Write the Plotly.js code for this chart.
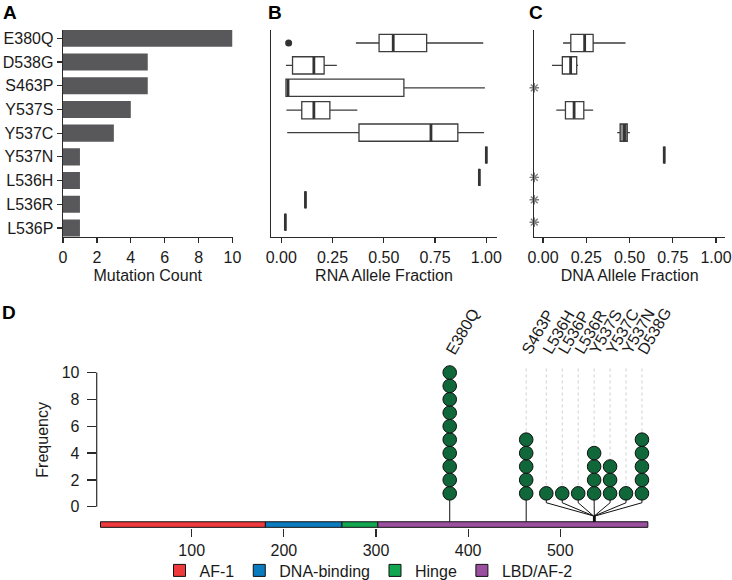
<!DOCTYPE html>
<html><head><meta charset="utf-8">
<script src="https://cdn.plot.ly/plotly-3.0.1.min.js"></script>
<style>html,body{margin:0;padding:0;background:#fff}#chart{width:732px;height:580px}</style>
</head><body><div id="chart"></div>
<script>
// ---------- data ----------
const mutations = ['E380Q','D538G','S463P','Y537S','Y537C','Y537N','L536H','L536R','L536P'];
const mutationCount = [10,5,5,4,3,1,1,1,1];

// RNA allele fraction box statistics (panel B)
const rnaLower  = [0.364,0.023,0.023,0.025,0.029,1.000,0.966,0.118,0.020];
const rnaQ1     = [0.477,0.055,0.023,0.100,0.379,1.000,0.966,0.118,0.020];
const rnaMedian = [0.546,0.159,0.033,0.159,0.730,1.000,0.966,0.118,0.020];
const rnaQ3     = [0.709,0.209,0.598,0.237,0.861,1.000,0.966,0.118,0.020];
const rnaUpper  = [0.985,0.271,0.993,0.371,0.989,1.000,0.966,0.118,0.020];
const rnaOutlierMut = ['E380Q'];
const rnaOutlierVal = [0.036];

// DNA allele fraction box statistics (panel C); null = not available
const dnaLower  = [0.116,0.052,null,0.077,0.429,0.701,null,null,null];
const dnaQ1     = [0.161,0.112,null,0.130,0.446,0.701,null,null,null];
const dnaMedian = [0.241,0.160,null,0.180,0.471,0.701,null,null,null];
const dnaQ3     = [0.290,0.195,null,0.236,0.487,0.701,null,null,null];
const dnaUpper  = [0.477,0.203,null,0.290,0.502,0.701,null,null,null];

// Lollipop (panel D)
const lolliLabels = ['E380Q','S463P','L536H','L536P','L536R','Y537S','Y537C','Y537N','D538G'];
const lolliPos    = [380,463,536,536,536,537,537,537,538];
const lolliCount  = [10,5,1,1,1,4,3,1,5];

const domainNames = ['AF-1','DNA-binding','Hinge','LBD/AF-2'];
const domainStart = [1,180,263,302];
const domainEnd   = [180,263,302,595];

const fractionTicks = [0,0.25,0.5,0.75,1];
const countTicks = [0,2,4,6,8,10];
const proteinTicks = [100,200,300,400,500];

// ---------- style / layout constants ----------
const W = 732, H = 580;
const FONT = 'Liberation Sans, Arial, Helvetica, sans-serif';
const TXT = '#1a1a1a';
const AX = '#2a2a2a';
const domainColors = ['#EE3A3C','#0B7BC0','#12A651','#9B4F9F'];
const dotGreen = '#10673A';
const shadedDnaBox = ['Y537C'];
const px2x = p => p / W;
const px2y = p => 1 - p / H;

const fracRange = [-0.05, 1.052];
const catRangeBox = [8.66, -0.58];
const barTopY = -1.116, barBotY = -1.53;
const circleR = 0.5;          // circle radius in count units
const spreadStep = 17.3;      // spacing used to spread overlapping lollipops
const labelY = 11.25, guideTop = 10.3;

const traces = [];

// ---- Panel A: bars ----
traces.push({type:'bar', orientation:'h', x:mutationCount, y:mutations, xaxis:'x', yaxis:'y',
  marker:{color:'#58585B', line:{width:0}}, width:0.72, showlegend:false, hoverinfo:'x+y'});

// ---- box helper ----
function boxTrace(idx, lo, q1, md, q3, hi, xa, ya, fill){
  return {type:'box', orientation:'h', xaxis:xa, yaxis:ya,
    y: idx.map(i=>mutations[i]), q1: idx.map(i=>q1[i]), median: idx.map(i=>md[i]),
    q3: idx.map(i=>q3[i]), lowerfence: idx.map(i=>lo[i]), upperfence: idx.map(i=>hi[i]),
    fillcolor: fill, line:{color:'#3d3d3d', width:1.3}, whiskerwidth:0, boxpoints:false,
    width:0.77, showlegend:false, hoverinfo:'skip'};
}
function medianTrace(idx, md, xa, ya){
  return {type:'scatter', mode:'markers', xaxis:xa, yaxis:ya,
    x: idx.map(i=>md[i]), y: idx.map(i=>mutations[i]),
    marker:{symbol:'line-ns', size:12.2, color:'#333', line:{width:2.8, color:'#333'}},
    showlegend:false, hoverinfo:'skip'};
}

// ---- Panel B ----
const allIdx = mutations.map((m,i)=>i);
traces.push(boxTrace(allIdx, rnaLower, rnaQ1, rnaMedian, rnaQ3, rnaUpper, 'x2','y2','#ffffff'));
traces.push(medianTrace(allIdx, rnaMedian, 'x2','y2'));
traces.push({type:'scatter', mode:'markers', xaxis:'x2', yaxis:'y2', x:rnaOutlierVal, y:rnaOutlierMut,
  marker:{symbol:'circle', size:7, color:'#333'}, showlegend:false});

// ---- Panel C ----
const dnaIdx = allIdx.filter(i=>dnaMedian[i]!==null);
const dnaWhite = dnaIdx.filter(i=>!shadedDnaBox.includes(mutations[i]));
const dnaGray = dnaIdx.filter(i=>shadedDnaBox.includes(mutations[i]));
traces.push(boxTrace(dnaWhite, dnaLower, dnaQ1, dnaMedian, dnaQ3, dnaUpper, 'x3','y3','#ffffff'));
traces.push(boxTrace(dnaGray, dnaLower, dnaQ1, dnaMedian, dnaQ3, dnaUpper, 'x3','y3','#8c8c8c'));
traces.push(medianTrace(dnaIdx, dnaMedian, 'x3','y3'));
const naIdx = allIdx.filter(i=>dnaMedian[i]===null);
traces.push({type:'scatter', mode:'markers', xaxis:'x3', yaxis:'y3', cliponaxis:false,
  x: naIdx.map(()=>fracRange[0]), y: naIdx.map(i=>mutations[i]),
  marker:{symbol:'asterisk-open', size:8, line:{width:1.4, color:'#222'}}, showlegend:false});

// ---- Panel D ----
// spread overlapping positions (cluster when closer than 10 aa)
const dispX = lolliPos.slice();
const spread = lolliPos.map(()=>false);
{
  let clusters = [], cur = [0];
  for (let i=1;i<lolliPos.length;i++){
    if (lolliPos[i]-lolliPos[i-1] < 10) cur.push(i); else { clusters.push(cur); cur=[i]; }
  }
  clusters.push(cur);
  clusters.forEach(c=>{
    if (c.length>1){
      const mean = c.reduce((s,i)=>s+lolliPos[i],0)/c.length;
      c.forEach((i,k)=>{ dispX[i] = mean + (k-(c.length-1)/2)*spreadStep; spread[i]=true; });
    }
  });
}

// domain bars (legend)
domainNames.forEach((n,i)=>{
  traces.push({type:'bar', orientation:'h', xaxis:'x4', yaxis:'y4', name:n,
    x:[domainEnd[i]-domainStart[i]], base:[domainStart[i]], y:[(barTopY+barBotY)/2],
    width:[barTopY-barBotY], marker:{color:domainColors[i], line:{color:'#111', width:1}},
    showlegend:true, hoverinfo:'name'});
});

// guide dotted lines
{
  const gx=[], gy=[];
  lolliLabels.forEach((l,i)=>{
    if (lolliCount[i]+circleR < guideTop){ gx.push(dispX[i],dispX[i],null); gy.push(guideTop, lolliCount[i]+circleR, null); }
  });
  traces.push({type:'scatter', mode:'lines', xaxis:'x4', yaxis:'y4', x:gx, y:gy,
    line:{color:'#cfcfcf', width:1, dash:'dot'}, showlegend:false, hoverinfo:'skip'});
}
// stems
{
  const sx=[], sy=[];
  lolliLabels.forEach((l,i)=>{
    if (!spread[i]) { sx.push(lolliPos[i],lolliPos[i],null); sy.push(1-circleR, barTopY, null); }
    else {
      sx.push(dispX[i], dispX[i], lolliPos[i], lolliPos[i], null);
      sy.push(1-circleR, 0.3, -0.68, barTopY, null);
    }
  });
  traces.push({type:'scatter', mode:'lines', xaxis:'x4', yaxis:'y4', x:sx, y:sy,
    line:{color:'#111', width:1}, showlegend:false, hoverinfo:'skip'});
}
// circles
{
  const cx=[], cy=[];
  lolliLabels.forEach((l,i)=>{ for(let k=1;k<=lolliCount[i];k++){ cx.push(dispX[i]); cy.push(k);} });
  traces.push({type:'scatter', mode:'markers', xaxis:'x4', yaxis:'y4', x:cx, y:cy, cliponaxis:false,
    marker:{symbol:'circle', size:13.6, color:dotGreen, line:{color:'#111', width:1}},
    showlegend:false, hoverinfo:'y'});
}

// ---------- layout ----------
const yTop = px2y(30), yBot = px2y(237);
const tickFont = {family:FONT, size:16, color:TXT};
const baseAxis = {showgrid:false, zeroline:false, ticks:'outside', tickcolor:AX, tickwidth:1.2,
  linecolor:AX, linewidth:1.4, tickfont:tickFont, fixedrange:true, automargin:false};

const annotations = [];
[['A',1,12],['B',266,12],['C',527,12],['D',0,312]].forEach(([t,x,y])=>{
  annotations.push({text:'<b>'+t+'</b>', xref:'paper', yref:'paper', x:px2x(x), y:px2y(y),
    xanchor:'left', yanchor:'middle', showarrow:false, font:{family:FONT, size:19, color:'#000'}});
});
annotations.push({text:'Frequency', xref:'paper', yref:'y4', x:px2x(43), y:5, textangle:-90,
  showarrow:false, xanchor:'center', yanchor:'middle', font:{family:FONT, size:16, color:TXT}});
lolliLabels.forEach((l,i)=>{
  annotations.push({text:l, xref:'x4', yref:'y4', x:dispX[i], y:labelY, textangle:-60,
    showarrow:false, xanchor:'left', yanchor:'bottom', xshift:-10, yshift:-4, font:{family:FONT, size:16, color:TXT}});
});

const shapes = [
  {type:'line', xref:'x4 domain', yref:'y4', x0:0, x1:0, y0:0, y1:10, line:{color:AX, width:1.2}}
];

const layout = {
  width:W, height:H, margin:{l:0,r:0,t:0,b:0,pad:0,autoexpand:false}, paper_bgcolor:'#fff', plot_bgcolor:'rgba(0,0,0,0)',
  font:{family:FONT, size:16, color:TXT},
  barmode:'overlay', boxmode:'overlay', showlegend:true,
  legend:{orientation:'h', x:px2x(159.5), xanchor:'left', y:px2y(553.5), yanchor:'top',
    font:{family:FONT, size:16, color:TXT}, bgcolor:'rgba(0,0,0,0)', traceorder:'normal'},
  xaxis: Object.assign({}, baseAxis, {domain:[px2x(63), px2x(232.5)], range:[0,10], dtick:2, ticklen:5,
    showline:true, anchor:'y', title:{text:'Mutation Count', font:{family:FONT,size:16,color:TXT}, standoff:5}}),
  yaxis: Object.assign({}, baseAxis, {domain:[yBot, yTop], type:'category', categoryarray:mutations,
    categoryorder:'array', range:[8.38,-0.35], ticklen:5, showline:true, anchor:'x'}),
  xaxis2: Object.assign({}, baseAxis, {domain:[px2x(271), px2x(497)], range:fracRange, tickvals:fractionTicks,
    tickformat:'.2f', ticklen:5, showline:true, anchor:'y2',
    title:{text:'RNA Allele Fraction', font:{family:FONT,size:16,color:TXT}, standoff:5}}),
  yaxis2: Object.assign({}, baseAxis, {domain:[yBot, yTop], type:'category', categoryarray:mutations,
    categoryorder:'array', range:catRangeBox, ticks:'', showticklabels:false, showline:true, anchor:'x2'}),
  xaxis3: Object.assign({}, baseAxis, {domain:[px2x(534.3), px2x(725)], range:fracRange, tickvals:fractionTicks,
    tickformat:'.2f', ticklen:5, showline:true, anchor:'y3',
    title:{text:'DNA Allele Fraction', font:{family:FONT,size:16,color:TXT}, standoff:5}}),
  yaxis3: Object.assign({}, baseAxis, {domain:[yBot, yTop], type:'category', categoryarray:mutations,
    categoryorder:'array', range:catRangeBox, ticks:'', showticklabels:false, showline:true, anchor:'x3'}),
  xaxis4: Object.assign({}, baseAxis, {domain:[px2x(96.7), px2x(660)], range:[-3.1, 608.2], tickvals:proteinTicks,
    ticklen:8, showline:false, anchor:'y4'}),
  yaxis4: Object.assign({}, baseAxis, {domain:[px2y(528), px2y(300)], range:[-1.58, 15.4], tickvals:countTicks,
    ticklen:9, showline:false, anchor:'x4', ticklabelstandoff:4}),
  annotations, shapes
};

Plotly.newPlot('chart', traces, layout, {displayModeBar:false, staticPlot:true});
</script>
</body></html>
